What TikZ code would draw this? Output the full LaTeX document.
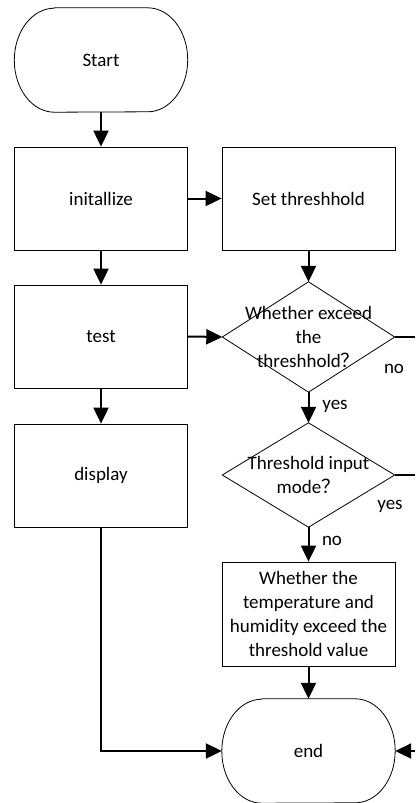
\documentclass[tikz,border=0pt]{standalone}
\usepackage{fontspec}
\setmainfont{Carlito}
\newfontfamily\cjkfont{Noto Sans CJK SC}
\usetikzlibrary{arrows.meta}
\newcommand{\fwq}{{\cjkfont ？}}

\begin{document}
\begin{tikzpicture}[x=1pt,y=-1pt,
  txt/.style={font=\fontsize{19}{24}\selectfont},
  outline/.style={draw, line width=0.8pt},
  procbox/.style={outline, txt, rectangle, minimum width=173pt, minimum height=103pt,
    inner sep=0pt, align=center},
  frame/.style={txt, rectangle, minimum width=173pt, minimum height=104pt,
    inner sep=0pt, align=center},
  diaframe/.style={txt, rectangle, minimum width=172pt, inner sep=0pt, align=center},
  arr/.style={line width=2pt, -{Triangle[length=16pt,width=15pt]}},
  plain/.style={line width=2pt},
  lbl/.style={txt, inner sep=0pt}
]
\useasboundingbox (0,0) rectangle (415,803);

% terminators (text frame, outline drawn below)
\node[frame] (start) at (101,60) {Start};
\node[frame] (end) at (308.5,751) {end};
\foreach \t in {start,end}{
  \draw[outline] ([xshift=40pt]\t.north west) -- ([xshift=-40pt]\t.north east)
    arc[start angle=90, end angle=-90, x radius=40pt, y radius=52pt]
    -- ([xshift=40pt]\t.south west)
    arc[start angle=270, end angle=90, x radius=40pt, y radius=52pt] -- cycle;
}

% process boxes
\node[procbox] (init) at (101,198.5) {initallize};
\node[procbox] (set) at (308.5,198.5) {Set threshhold};
\node[procbox] (test) at (101,336.5) {test};
\node[procbox] (disp) at (101,475.5) {display};
\node[procbox, minimum height=104pt] (chk) at (308.5,614)
  {Whether the\\temperature and\\humidity exceed the\\threshold value};

% decisions
\node[diaframe, minimum height=110pt] (d1) at (308.5,337)
  {Whether exceed\\the\\threshhold\fwq};
\node[diaframe, minimum height=104pt] (d2) at (308.5,475)
  {Threshold input\\mode\fwq};
\foreach \d in {d1,d2}{
  \draw[outline] (\d.north) -- (\d.east) -- (\d.south) -- (\d.west) -- cycle;
}

% right margin exits
\coordinate (rim) at (415,0);

% connectors
\draw[arr] (start) -- (init);
\draw[arr] (init) -- (set);
\draw[arr] (init) -- (test);
\draw[arr] (set) -- (d1.north);
\draw[arr] (test.east) -- (d1.west);
\draw[arr] (test) -- (disp);
\draw[arr] (d1.south) -- (d2.north);
\draw[arr] (d2.south) -- (chk.north);
\draw[arr] (chk) -- (end);
\draw[arr] (disp.south) |- (end.west);
\draw[plain] (d1.east) -- (d1.east -| rim);
\draw[plain] (d2.east) -- (d2.east -| rim);
\draw[arr] (end.east -| rim) -- (end.east);

% branch labels
\node[lbl] (l1) at (394,369) {no};
\node[lbl] (l2) at (335,406) {yes};
\node[lbl] (l3) at (390,506) {yes};
\node[lbl] (l4) at (332,541) {no};
\end{tikzpicture}
\end{document}
